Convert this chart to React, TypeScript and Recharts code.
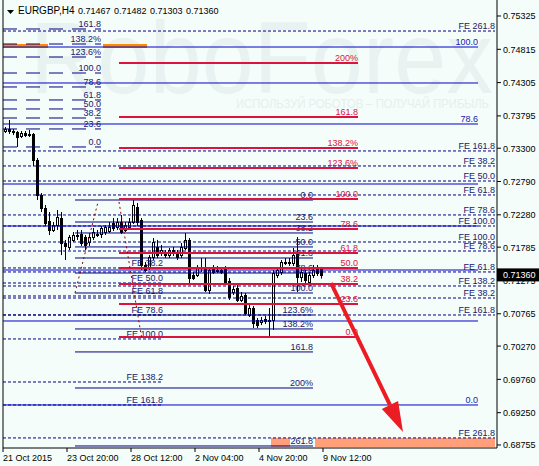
import React from "react";
import { ComposedChart, Bar, XAxis, YAxis, ReferenceLine, ReferenceArea } from "recharts";

const FONT = "'Liberation Sans', Arial, sans-serif";
const BG = "#f4fdf9";

const SYMBOL = "EURGBP,H4";
const LAST_OHLC = [0.71467, 0.71482, 0.71303, 0.7136];
const LAST_PRICE = 0.7136;

const TIME_TICKS = [0, 16, 32, 48, 64, 80];
const TIME_LABELS = ["21 Oct 2015", "23 Oct 20:00", "28 Oct 12:00", "2 Nov 04:00", "4 Nov 20:00", "9 Nov 12:00"];
const PRICE_TICKS = [
  0.75325, 0.74815, 0.74305, 0.73795, 0.733, 0.7279, 0.7228, 0.71785, 0.71275, 0.70765, 0.7027, 0.6976, 0.6925, 0.68755,
];

// H4 candles
const OPEN = [
  0.73564, 0.73594, 0.73564, 0.73548, 0.73487, 0.73533, 0.73502, 0.73518, 0.7312, 0.72583,
  0.72384, 0.72186, 0.72048, 0.72124, 0.72231, 0.71849, 0.71788, 0.71895, 0.71971, 0.71986,
  0.7194, 0.71864, 0.7194, 0.71986, 0.71986, 0.72017, 0.72032, 0.72155, 0.72094, 0.7217,
  0.72048, 0.72094, 0.7217, 0.724, 0.72201, 0.71511, 0.71465, 0.71634, 0.71788, 0.71711,
  0.71711, 0.71664, 0.71741, 0.71711, 0.71664, 0.71772, 0.71895, 0.71358, 0.71358, 0.71481,
  0.71465, 0.71129, 0.71465, 0.71435, 0.71435, 0.7145, 0.71267, 0.71098, 0.71159, 0.70976,
  0.71052, 0.70746, 0.70853, 0.70669, 0.70638, 0.70684, 0.70669, 0.70669, 0.71358, 0.71404,
  0.71557, 0.71557, 0.71542, 0.71695, 0.71328, 0.71389, 0.71251, 0.71358, 0.71465, 0.71467,
];
const HIGH = [
  0.73625, 0.73732, 0.73594, 0.73564, 0.73564, 0.73564, 0.73579, 0.73533, 0.7315, 0.72614,
  0.7243, 0.72323, 0.7217, 0.72354, 0.72323, 0.71895, 0.71971, 0.72017, 0.72048, 0.72048,
  0.71971, 0.72002, 0.72078, 0.72048, 0.72109, 0.72124, 0.7217, 0.72231, 0.72231, 0.72277,
  0.7217, 0.72231, 0.72507, 0.72461, 0.72231, 0.71557, 0.71664, 0.71925, 0.71895, 0.71818,
  0.71741, 0.71772, 0.71788, 0.71741, 0.71849, 0.72002, 0.71925, 0.71404, 0.71511, 0.71618,
  0.71618, 0.71465, 0.71511, 0.71496, 0.71481, 0.71496, 0.71312, 0.7119, 0.71205, 0.71098,
  0.71083, 0.70899, 0.70884, 0.707, 0.70715, 0.7073, 0.70853, 0.71435, 0.71465, 0.71588,
  0.71618, 0.71618, 0.71772, 0.7194, 0.71465, 0.71435, 0.71404, 0.71511, 0.71511, 0.71482,
];
const LOW = [
  0.73533, 0.73518, 0.73502, 0.73319, 0.73456, 0.73472, 0.73472, 0.73028, 0.72507, 0.72323,
  0.72109, 0.71971, 0.72017, 0.72048, 0.71664, 0.71588, 0.71741, 0.71864, 0.71895, 0.71803,
  0.71741, 0.71803, 0.71895, 0.7194, 0.71925, 0.71971, 0.72002, 0.72032, 0.72048, 0.71986,
  0.72017, 0.72048, 0.7214, 0.72109, 0.71435, 0.71404, 0.71435, 0.71588, 0.71618, 0.7165,
  0.71618, 0.71618, 0.7165, 0.71588, 0.71618, 0.71741, 0.71236, 0.71282, 0.71328, 0.71404,
  0.71098, 0.71068, 0.71374, 0.71389, 0.71374, 0.71205, 0.70976, 0.71052, 0.70945, 0.70945,
  0.70746, 0.70715, 0.70546, 0.70546, 0.70592, 0.70608, 0.70409, 0.70516, 0.71312, 0.71358,
  0.71511, 0.71496, 0.71496, 0.71098, 0.71251, 0.71236, 0.71205, 0.71312, 0.71343, 0.71303,
];
const CLOSE = [
  0.73594, 0.73564, 0.73548, 0.73472, 0.73533, 0.73502, 0.73518, 0.7312, 0.72583, 0.72384,
  0.72155, 0.72048, 0.72124, 0.72247, 0.71849, 0.71803, 0.7194, 0.71971, 0.71956, 0.71849,
  0.71818, 0.7194, 0.72017, 0.7198, 0.72078, 0.72094, 0.72094, 0.72078, 0.7217, 0.72017,
  0.72124, 0.7217, 0.7243, 0.7217, 0.71511, 0.71435, 0.71634, 0.71864, 0.71664, 0.71741,
  0.71664, 0.71741, 0.71695, 0.71634, 0.71788, 0.71895, 0.71312, 0.71312, 0.71481, 0.71465,
  0.71129, 0.71435, 0.71404, 0.7143, 0.71404, 0.71251, 0.71022, 0.71144, 0.70976, 0.71037,
  0.70777, 0.70853, 0.70623, 0.70592, 0.70669, 0.70654, 0.70654, 0.71389, 0.71435, 0.71557,
  0.71562, 0.7155, 0.71664, 0.71328, 0.71404, 0.71282, 0.71358, 0.71435, 0.71389, 0.7136,
];

// fibo objects: level prices + labels, spans in bar units
const RED_FIB = [0.74605, 0.73778, 0.73304, 0.72997, 0.72523, 0.72063, 0.71696, 0.71466, 0.71221, 0.70915, 0.70409];
const RED_FIB_LABELS = ["200%", "161.8", "138.2%", "123.6%", "100.0", "78.6", "61.8", "50.0", "38.2", "23.6", "0.0"];
const RED_SPAN = [29, 88.75];

const MID_FIB = [0.72507, 0.7217, 0.72002, 0.71788, 0.71619, 0.71389, 0.71083, 0.70746, 0.70532, 0.7018, 0.69628, 0.6874];
const MID_FIB_LABELS = ["0.0", "23.6", "38.2", "50.0", "61.8", "78.6", "100.0", "123.6%", "138.2%", "161.8", "200%", "261.8"];
const MID_SPAN = [18, 77.5];

const LEFT_FIB = [0.75126, 0.74896, 0.74697, 0.74452, 0.74238, 0.74039, 0.73901, 0.73763, 0.73595, 0.73319];
const LEFT_FIB_LABELS = ["161.8", "138.2%", "123.6%", "100.0", "78.6", "61.8", "50.0", "38.2", "23.6", "0.0"];
const LEFT_SPAN = [0, 24.5];

const BLUE_FIB = [0.7485, 0.74299, 0.73671, 0.72752, 0.72109, 0.71435, 0.70654, 0.69368];
const BLUE_FIB_LABELS = ["100.0", "", "78.6", "", "", "", "", "0.0"];
const BLUE_SPAN = [0, 118.75];

const FE = [0.75095, 0.73258, 0.73028, 0.72798, 0.72584, 0.72278, 0.72109, 0.71864, 0.71726, 0.71405, 0.7119, 0.71006, 0.70746, 0.68863];
const FE_LABELS = [
  "FE 261.8", "FE 161.8", "FE 38.2", "FE 50.0", "FE 61.8", "FE 78.6", "FE 100.0",
  "FE 100.0", "FE 78.6", "FE 61.8", "FE 138.2", "FE 38.2", "FE 161.8", "FE 261.8",
];
const FE_SPAN = [0, 123];

const FE2 = [0.71466, 0.71236, 0.71037, 0.70746, 0.70379, 0.6972, 0.69368];
const FE2_LABELS = ["FE 38.2", "FE 50.0", "FE 61.8", "FE 78.6", "FE 100.0", "FE 138.2", "FE 161.8"];
const FE2_SPAN = [0, 40];

const ZIGZAG = [
  [18, 0.71083, 23.75, 0.72477],
  [29, 0.72477, 34.75, 0.70363],
];
const ARROW = [82, 0.71236, 100, 0.68954];

const candles = OPEN.map((o, i) => ({
  t: i + 0.5,
  o,
  h: HIGH[i],
  l: LOW[i],
  c: CLOSE[i],
  range: [LOW[i], HIGH[i]],
}));

function Candle(props: any) {
  const { x, y, width, height, payload } = props;
  if (!payload) return null;
  const { o, h, l, c } = payload;
  const top = Math.min(y, y + height);
  const hgt = Math.abs(height);
  const k = h - l > 0 ? hgt / (h - l) : 0;
  const px = Math.round(x + width / 2);
  const yo = top + (h - o) * k;
  const yc = top + (h - c) * k;
  const bTop = Math.round(Math.min(yo, yc)) + 0.5;
  const bH = Math.max(Math.round(Math.abs(yc - yo)), 1);
  return (
    <g>
      <line x1={px + 0.5} x2={px + 0.5} y1={top} y2={top + hgt} stroke="#000" strokeWidth={1} />
      <rect x={px - 0.5} y={bTop} width={2} height={bH} fill={c >= o ? "#fff" : "#000"} stroke="#000" strokeWidth={1} />
    </g>
  );
}

const levelLabel = (text: string, color: string) => (p: any) => {
  const vb = p.viewBox || {};
  if (!text || vb.x == null) return null;
  return (
    <text x={vb.x + vb.width} y={vb.y - 2} textAnchor="end" fontSize={9} fontFamily={FONT} fill={color}>
      {text}
    </text>
  );
};

function levels(
  key: string,
  prices: number[],
  labels: string[],
  span: number[],
  stroke: string,
  width: number,
  dash: string | undefined,
  labelColor: string
) {
  return prices.map((p, i) => (
    <ReferenceLine
      key={key + i}
      segment={[
        { x: span[0], y: p },
        { x: span[1], y: p },
      ]}
      stroke={stroke}
      strokeWidth={width}
      strokeDasharray={dash}
      ifOverflow="visible"
      label={levelLabel(labels[i], labelColor)}
    />
  ));
}

function ArrowShape(p: any) {
  const { x1, y1, x2, y2 } = p;
  const dx = x2 - x1;
  const dy = y2 - y1;
  const len = Math.hypot(dx, dy) || 1;
  const ux = dx / len;
  const uy = dy / len;
  const hl = 30;
  const hw = 9;
  const bx = x2 - ux * hl;
  const by = y2 - uy * hl;
  return (
    <g>
      <line x1={x1} y1={y1} x2={bx} y2={by} stroke="#ec1c24" strokeWidth={4} />
      <polygon
        points={`${x2},${y2} ${bx - uy * hw},${by + ux * hw} ${bx + uy * hw},${by - ux * hw}`}
        fill="#ec1c24"
      />
    </g>
  );
}

function PriceTick(props: any) {
  const { x, y, payload } = props;
  const v = payload.value;
  if (v === LAST_PRICE) {
    return (
      <g>
        <rect x={x - 6} y={y - 6.5} width={42} height={13} fill="#000" />
        <text x={x} y={y + 3.5} fontSize={9} fontFamily={FONT} fill="#fff">
          {v.toFixed(5)}
        </text>
      </g>
    );
  }
  return (
    <text x={x} y={y + 3.5} fontSize={9} fontFamily={FONT} fill="#000">
      {v.toFixed(5)}
    </text>
  );
}

function TimeTick(props: any) {
  const { x, y, payload } = props;
  const idx = TIME_TICKS.indexOf(payload.value);
  return (
    <text x={x} y={y + 7} fontSize={9} fontFamily={FONT} fill="#000" textAnchor="start">
      {TIME_LABELS[idx]}
    </text>
  );
}

export default function App() {
  document.body.style.margin = "0";
  const navy = "#000080";
  const navyText = "#191970";
  return (
    <div style={{ position: "relative", width: 539, height: 466, background: BG, overflow: "hidden" }}>
      <svg width={539} height={466} style={{ position: "absolute", left: 0, top: 0 }}>
        <text x={30} y={93} fontSize={102} fontFamily={FONT} fill="#e8f2f1" textLength={463} lengthAdjust="spacingAndGlyphs">
          RoboForex
        </text>
        <text x={236} y={108} fontSize={13} fontFamily={FONT} fill="#e6efef" textLength={253} lengthAdjust="spacingAndGlyphs">
          ИСПОЛЬЗУЙ РОБОТОВ – ПОЛУЧАЙ ПРИБЫЛЬ
        </text>
      </svg>
      <div style={{ position: "absolute", left: 0, top: 0 }}>
        <ComposedChart width={539} height={466} data={candles} margin={{ top: 0, right: 0, bottom: 0, left: 3 }}>
          <XAxis
            type="number"
            dataKey="t"
            domain={[0, 123.5]}
            ticks={TIME_TICKS}
            interval={0}
            allowDataOverflow
            height={18}
            tickSize={4}
            tickMargin={2}
            tick={TimeTick}
            axisLine={{ stroke: "#000" }}
            tickLine={{ stroke: "#000" }}
          />
          <YAxis
            type="number"
            orientation="right"
            domain={[0.68709, 0.7557]}
            ticks={[...PRICE_TICKS, LAST_PRICE]}
            interval={0}
            allowDataOverflow
            width={42}
            tickSize={4}
            tickMargin={2}
            tick={PriceTick}
            axisLine={{ stroke: "#000" }}
            tickLine={{ stroke: "#000" }}
          />
          <ReferenceLine x={0} stroke="#000" ifOverflow="visible" />
          <ReferenceArea x1={0} x2={11.25} y1={0.74835} y2={0.74896} fill="#ff8c00" fillOpacity={1} ifOverflow="visible" />
          <ReferenceArea x1={25} x2={36} y1={0.74835} y2={0.74896} fill="#ff8c00" fillOpacity={1} ifOverflow="visible" />
          <ReferenceArea x1={67} x2={71.75} y1={0.68725} y2={0.68863} fill="#ffa07a" fillOpacity={1} ifOverflow="visible" />
          <ReferenceArea x1={78} x2={123} y1={0.68725} y2={0.68863} fill="#ffa07a" fillOpacity={1} ifOverflow="visible" />
          {levels("fe", FE, FE_LABELS, FE_SPAN, navy, 1, "3 2", navyText)}
          {levels("fe2", FE2, FE2_LABELS, FE2_SPAN, navy, 1, "3 2", navyText)}
          {levels("left", LEFT_FIB, LEFT_FIB_LABELS, LEFT_SPAN, navy, 1, "14 9", navyText)}
          {levels("blue", BLUE_FIB, BLUE_FIB_LABELS, BLUE_SPAN, "#0000cd", 1, undefined, "#2020b0")}
          {levels("mid", MID_FIB, MID_FIB_LABELS, MID_SPAN, navy, 1, undefined, navyText)}
          {levels("red", RED_FIB, RED_FIB_LABELS, RED_SPAN, "#dc143c", 2, undefined, "#dc143c")}
          {ZIGZAG.map((z, i) => (
            <ReferenceLine
              key={"zz" + i}
              segment={[
                { x: z[0], y: z[1] },
                { x: z[2], y: z[3] },
              ]}
              stroke="#8b0000"
              strokeDasharray="2 3"
              ifOverflow="visible"
            />
          ))}
          <Bar dataKey="range" barSize={4} shape={Candle} isAnimationActive={false} />
          <ReferenceLine
            segment={[
              { x: ARROW[0], y: ARROW[1] },
              { x: ARROW[2], y: ARROW[3] },
            ]}
            ifOverflow="visible"
            shape={ArrowShape}
          />
        </ComposedChart>
      </div>
      <svg width={539} height={20} style={{ position: "absolute", left: 0, top: 0 }}>
        <polygon points="7,10 14,10 10.5,14" fill="#000" />
        <text x={18} y={14} fontSize={10} fontFamily={FONT} fill="#000">
          {SYMBOL}
        </text>
        {LAST_OHLC.map((v, i) => (
          <text key={i} x={78 + i * 36} y={14} fontSize={9} fontFamily={FONT} fill="#000">
            {v.toFixed(5)}
          </text>
        ))}
      </svg>
    </div>
  );
}
